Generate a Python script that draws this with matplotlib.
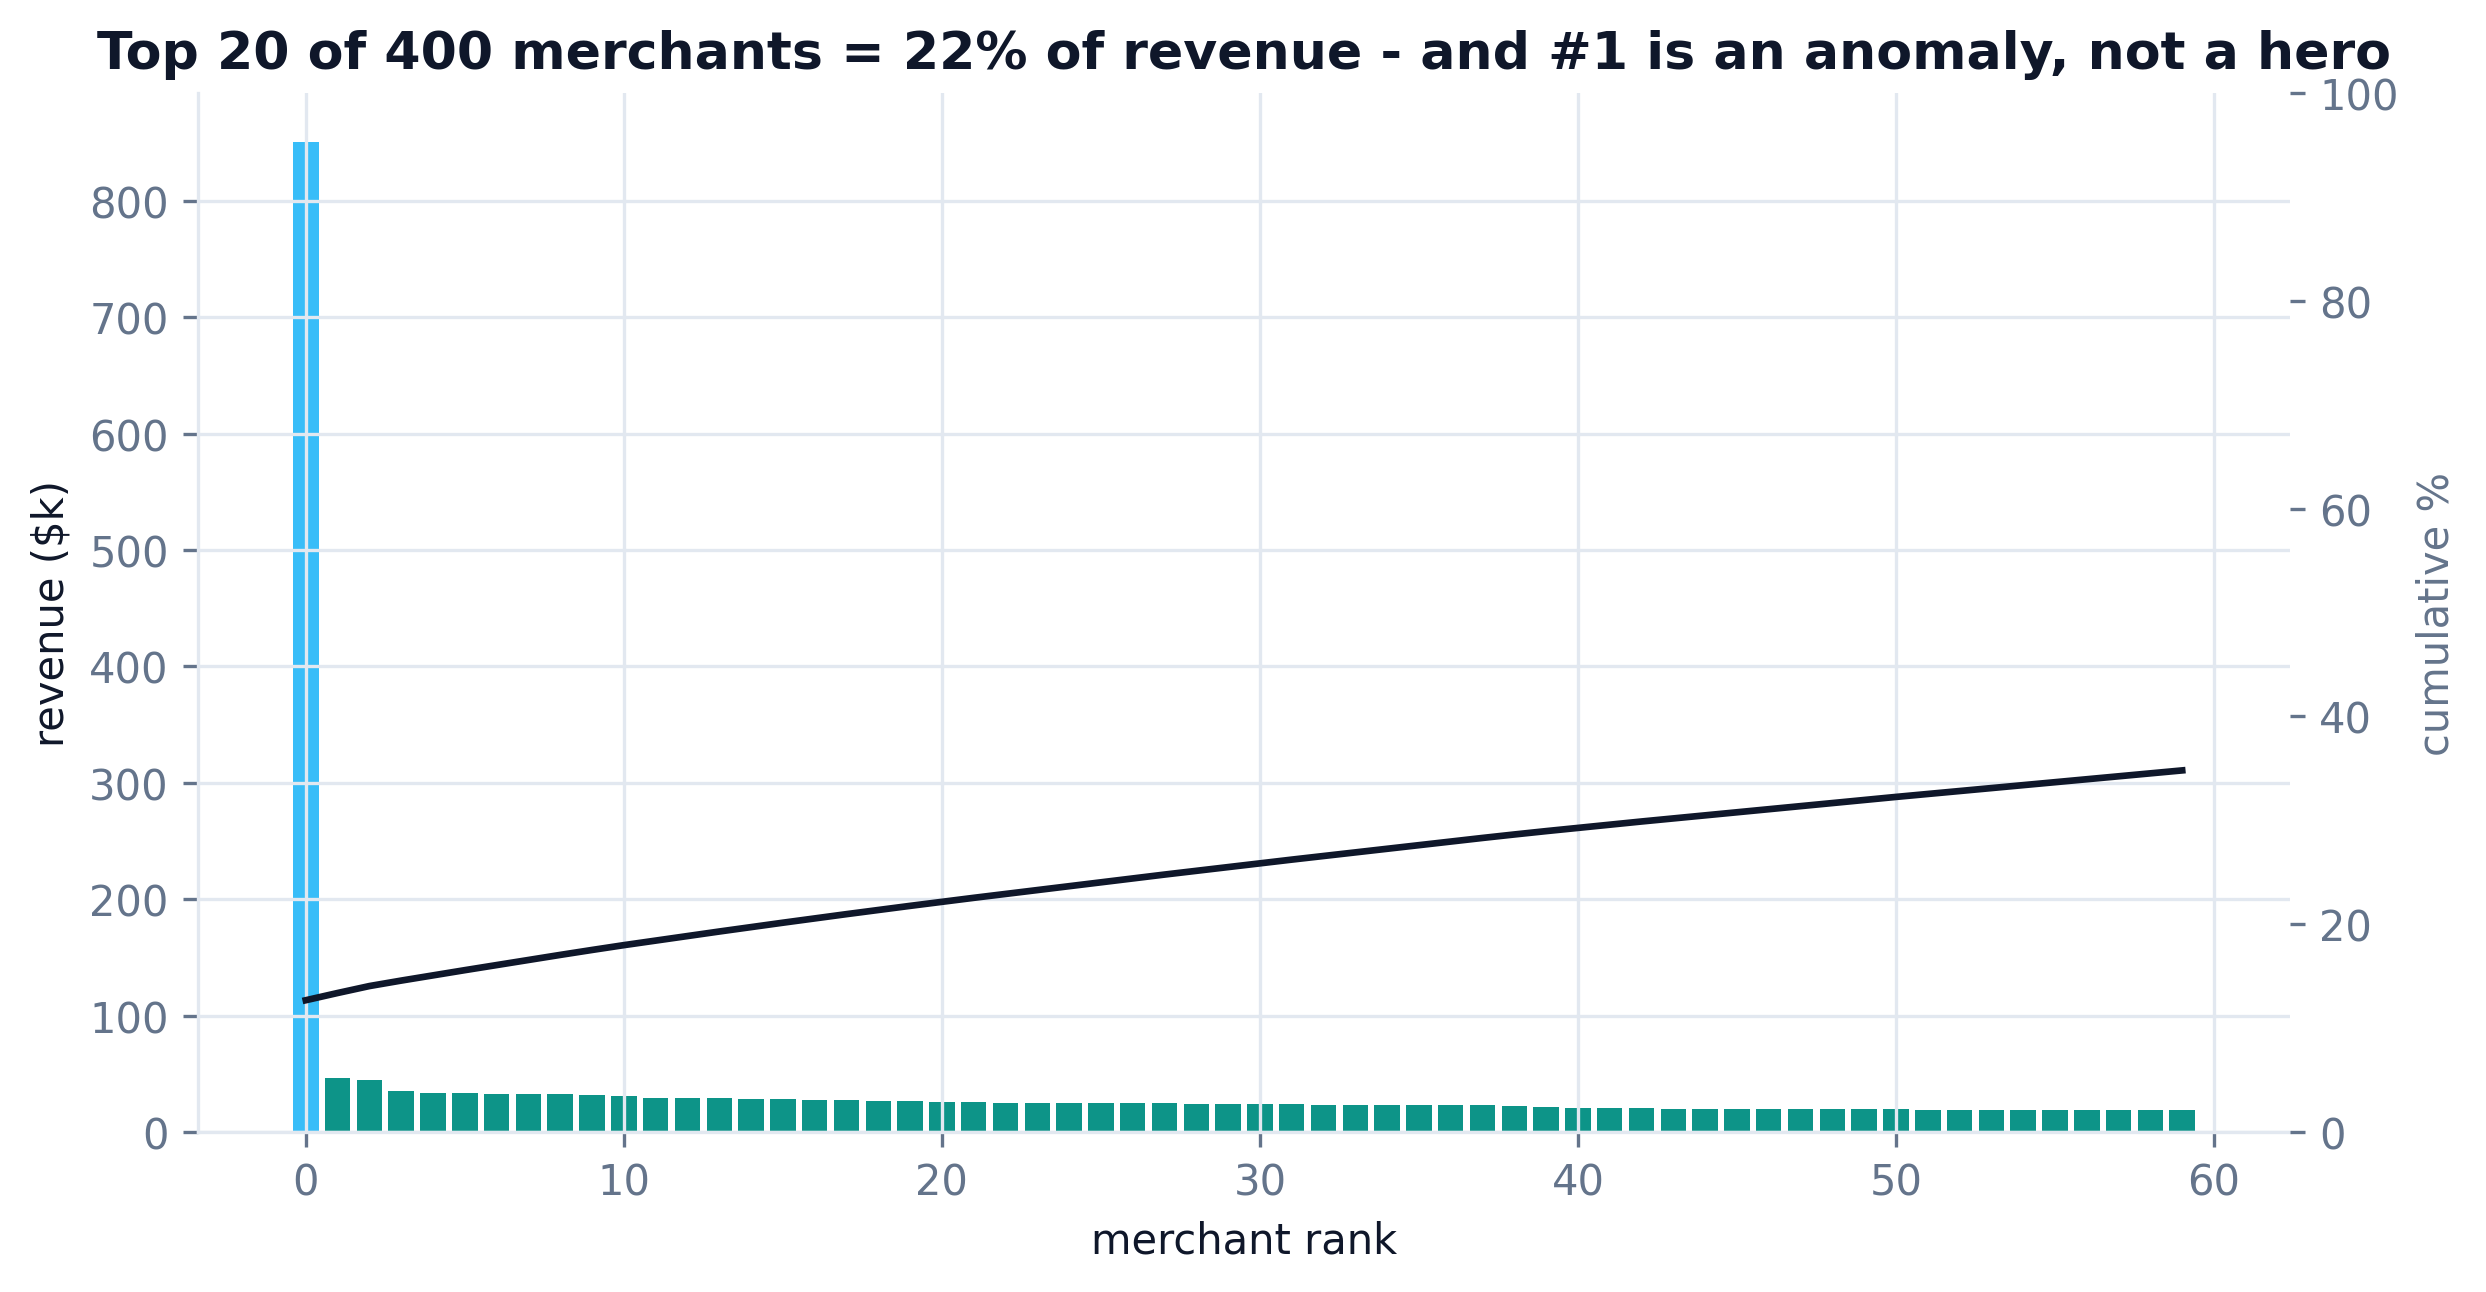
import numpy as np
import matplotlib
matplotlib.use("Agg")
import matplotlib.pyplot as plt

# revenue per merchant ($k), ranks 0..59
revenue = [850.0, 46.6, 44.8, 35.3, 33.6, 33.6, 32.8, 32.8, 32.8, 31.9,
           31.0, 29.3, 29.3, 29.3, 28.4, 28.4, 27.6, 27.6, 26.7, 26.7,
           25.9, 25.9, 25.0, 25.0, 25.0, 25.0, 25.0, 25.0, 24.1, 24.1,
           24.1, 24.1, 23.3, 23.3, 23.3, 23.3, 23.3, 23.3, 22.4, 21.6,
           20.7, 20.7, 20.7, 19.8, 19.8, 19.8, 19.8, 19.8, 19.8, 19.8,
           19.8, 19.0, 19.0, 19.0, 19.0, 19.0, 19.0, 19.0, 19.0, 19.0]
total_revenue = 6700.0  # all 400 merchants, $k
rank = np.arange(len(revenue))
cum_pct = np.cumsum(revenue) / total_revenue * 100

DARK = "#0f172a"
SLATE = "#64748b"
GRID = "#e2e8f0"

fig = plt.figure(figsize=(8.29, 4.31), dpi=300)
ax = fig.add_subplot(111)
fig.subplots_adjust(left=0.0796, right=0.9208, top=0.9273, bottom=0.1237)

colors = ["#38bdf8"] + ["#0d9488"] * (len(revenue) - 1)
ax.bar(rank, revenue, color=colors, width=0.8)
ax.set_ylim(0, None)
ax.grid(True, color=GRID, linewidth=0.8)
ax.set_xlabel("merchant rank", color=DARK)
ax.set_ylabel("revenue ($k)", color=DARK)
ax.tick_params(colors=SLATE)
for s in ["top", "right"]:
    ax.spines[s].set_visible(False)
for s in ["left", "bottom"]:
    ax.spines[s].set_color(GRID)
    ax.spines[s].set_linewidth(0.8)

ax2 = ax.twinx()
ax2.plot(rank, cum_pct, color=DARK, linewidth=1.6)
ax2.set_ylim(0, 100)
ax2.set_ylabel("cumulative %", color=SLATE)
ax2.tick_params(colors=SLATE)
ax2.grid(False)
for s in ax2.spines.values():
    s.set_visible(False)

ax.set_title("Top 20 of 400 merchants = 22% of revenue - and #1 is an anomaly, not a hero",
             fontweight="bold", color=DARK, fontsize=12.5)

fig.savefig("out.png", dpi=300)
